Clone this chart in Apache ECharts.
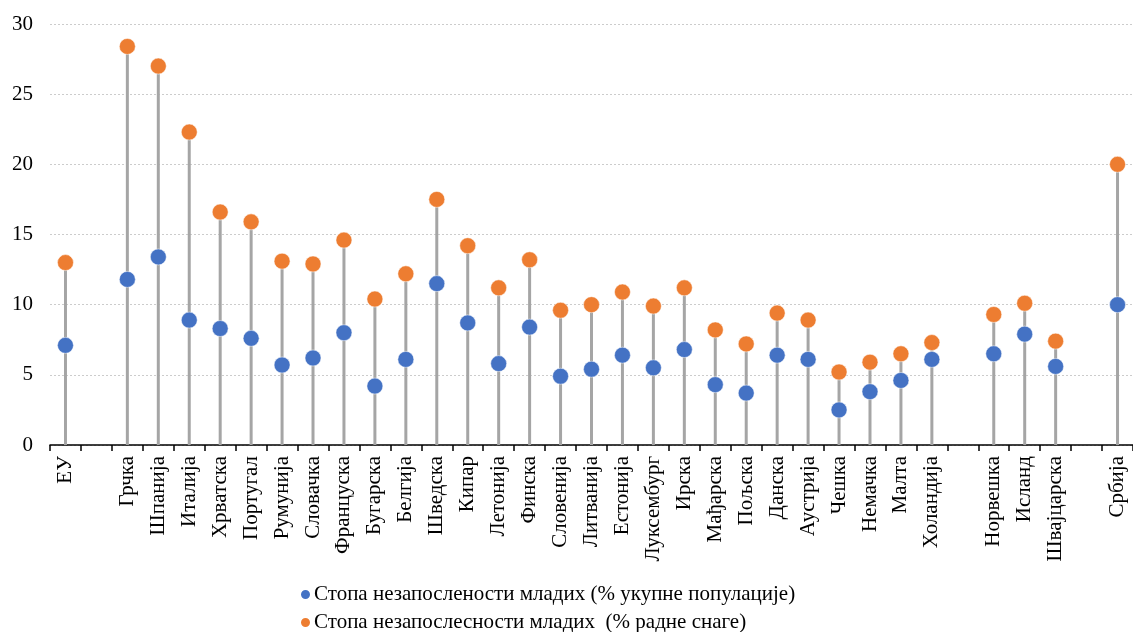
<!DOCTYPE html>
<html><head><meta charset="utf-8">
<script src="https://cdn.jsdelivr.net/npm/echarts@6/dist/echarts.min.js"></script>
<style>html,body{margin:0;padding:0;background:#fff}#c{width:1133px;height:632px}</style>
</head><body><div id="c"></div>
<script>
const categories = ['ЕУ','','Грчка','Шпанија','Италија','Хрватска','Португал','Румунија','Словачка','Француска','Бугарска','Белгија','Шведска','Кипар','Летонија','Финска','Словенија','Литванија','Естонија','Луксембург','Ирска','Мађарска','Пољска','Данска','Аустрија','Чешка','Немачка','Малта','Холандија','','Норвешка','Исланд','Швајцарска','','Србија'];
const populationRate = [7.1,null,11.8,13.4,8.9,8.3,7.6,5.7,6.2,8.0,4.2,6.1,11.5,8.7,5.8,8.4,4.9,5.4,6.4,5.5,6.8,4.3,3.7,6.4,6.1,2.5,3.8,4.6,6.1,null,6.5,7.9,5.6,null,10.0];
const laborRate = [13.0,null,28.4,27.0,22.3,16.6,15.9,13.1,12.9,14.6,10.4,12.2,17.5,14.2,11.2,13.2,9.6,10.0,10.9,9.9,11.2,8.2,7.2,9.4,8.9,5.2,5.9,6.5,7.3,null,9.3,10.1,7.4,null,20.0];
const yTicks = [0,5,10,15,20,25,30];
const seriesNames = ['Стопа незапослености младих (% укупне популације)','Стопа незапослесности младих  (% радне снаге)'];

const stemValues = laborRate.map((v,i)=> v==null ? '-' : Math.max(v, populationRate[i]));
const toData = arr => arr.map(v => v==null ? '-' : v);
const font = '"Liberation Serif", "Times New Roman", serif';
const legendText = {fontSize:21,color:'#000',fontFamily:font,padding:[0,0,0,-2]};

const chart = echarts.init(document.getElementById('c'));
chart.setOption({
  animation:false,
  textStyle:{fontFamily:font},
  grid:{left:50,right:0,top:24,bottom:187},
  xAxis:{type:'category',data:categories,boundaryGap:true,
    axisLine:{lineStyle:{color:'#000',width:1.5}},
    axisTick:{show:true,length:6,lineStyle:{color:'#000',width:1.5}},
    axisLabel:{rotate:90,interval:0,fontSize:21,color:'#000',fontFamily:font,margin:11}},
  yAxis:{type:'value',min:yTicks[0],max:yTicks[yTicks.length-1],interval:5,
    axisLine:{show:false},axisTick:{show:false},
    axisLabel:{fontSize:21,color:'#000',fontFamily:font,margin:17},
    splitLine:{lineStyle:{color:'#cccccc',type:[2,2],width:1}}},
  legend:[
    {left:299,top:584,padding:0,icon:'circle',itemWidth:11,itemHeight:11,textStyle:legendText,data:[seriesNames[0]]},
    {left:299,top:612,padding:0,icon:'circle',itemWidth:11,itemHeight:11,textStyle:legendText,data:[seriesNames[1]]}
  ],
  series:[
    {type:'bar',name:'stem',data:stemValues,barWidth:3,itemStyle:{color:'#a5a5a5'},z:1,silent:true},
    {type:'scatter',name:seriesNames[0],data:toData(populationRate),symbolSize:16,itemStyle:{color:'#4472c4',opacity:1,borderColor:'#fff',borderWidth:0.5},z:3},
    {type:'scatter',name:seriesNames[1],data:toData(laborRate),symbolSize:16,itemStyle:{color:'#ed7d31',opacity:1,borderColor:'#fff',borderWidth:0.5},z:3}
  ]
});
</script></body></html>
